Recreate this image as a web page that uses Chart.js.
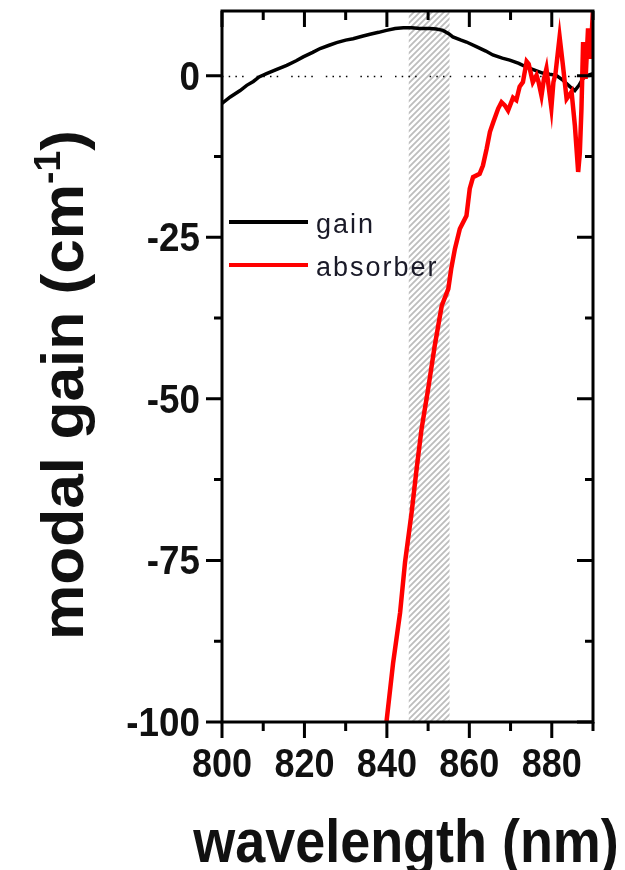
<!DOCTYPE html>
<html>
<head>
<meta charset="utf-8">
<script src="https://cdn.jsdelivr.net/npm/chart.js@4.4.0/dist/chart.umd.min.js"></script>
<style>
  html, body { margin: 0; padding: 0; background: #fff; }
  canvas { display: block; }
</style>
</head>
<body>
<canvas id="myChart" width="625" height="870"></canvas>
<script>
// gain section: wavelength (nm) and modal gain (cm-1)
var gainWl = [800, 802, 804.4, 806, 807.6, 809, 810.8, 813, 815.7, 818, 819.7, 822, 823.8, 826, 827.8,
    830, 831.8, 834, 835.9, 838, 839.9, 842, 844, 846, 848, 850.4, 852, 853.6, 855, 856, 858, 859.3,
    861.7, 864, 865.7, 868, 869.8, 872, 873.9, 876, 877.8, 879.5, 881.1, 882.5, 884.4, 885.6, 886.6,
    887.5, 888.5, 890];
var gainVal = [-4.3, -3.3, -2.3, -1.5, -0.9, -0.2, 0.3, 0.9, 1.6, 2.3, 2.9, 3.6, 4.2, 4.7, 5.1,
    5.5, 5.7, 6.1, 6.4, 6.7, 7.0, 7.3, 7.4, 7.4, 7.3, 7.3, 7.2, 7.0, 6.5, 6.0, 5.5, 5.2,
    4.5, 3.8, 3.2, 2.7, 2.4, 1.9, 1.3, 0.8, 0.4, 0.2, 0.05, -0.6, -1.7, -2.3, -1.5,
    -0.5, 0.0, 0.3];

// absorber section
var absWl = [839.9, 841.5, 843.2, 844.4, 846.0, 847.2, 848.4, 850.0, 851.6, 853.3, 854.9, 855.6,
    856.5, 857.7, 859.3, 860.1, 860.9, 862.5, 863.3, 864.2, 865.0, 865.8, 867.0, 867.8, 868.6,
    869.4, 870.6, 871.4, 872.2, 873.0, 873.9, 874.4, 875.4, 876.3, 876.8, 877.5, 878.1, 878.7,
    879.3, 879.9, 880.4, 880.9, 881.9, 882.7, 883.6, 884.8, 885.6, 886.4, 886.8, 887.2, 887.6,
    888.2, 888.8, 889.4, 890];
var absVal = [-100, -90.9, -83.1, -75.3, -67.6, -60.9, -54.7, -48.5, -41.8, -35.6, -33, -29.9,
    -26.8, -23.7, -21.7, -17.5, -15.7, -15.2, -13.9, -11.3, -8.7, -7.2, -5.1, -4.1, -4.6,
    -5.4, -3.4, -3.8, -1.7, -1.0, 2.2, 1.8, -1.0, 0.05, -1.0, -3.1, -0.5, 1.1,
    -2.0, -5.0, -1.0, 0.3, 6.0, 1.6, -3.6, -2.5, -7.7, -14.9, -12, -5.1, 5.2,
    -0.5, 7.3, 2.6, 10.4];

var seriesNames = ['gain', 'absorber'];
var xMajor = [800, 820, 840, 860, 880];
var xMinor = [810, 830, 850, 870, 890];
var yMajor = [0, -25, -50, -75, -100];
var yMinor = [-12.5, -37.5, -62.5, -87.5];
var bandFrom = 845.3, bandTo = 855.2; // hatched window (nm)

function pares(xs, ys) {
    var out = [];
    for (var i = 0; i < xs.length; i++) out.push({ x: xs[i], y: ys[i] });
    return out;
}

// text squeezed horizontally by sx
function texto(ctx, str, x, y, font, align, sx) {
    ctx.save();
    ctx.font = font;
    ctx.textAlign = align;
    ctx.textBaseline = 'alphabetic';
    ctx.translate(x, y);
    ctx.scale(sx, 1);
    ctx.fillText(str, 0, 0);
    ctx.restore();
}

function rayado() {
    var c = document.createElement('canvas');
    c.width = 6; c.height = 6;
    var p = c.getContext('2d');
    p.strokeStyle = '#bdbdbd';
    p.lineWidth = 1.8;
    p.beginPath();
    p.moveTo(-1, 7); p.lineTo(7, -1);
    p.moveTo(-4, 4); p.lineTo(4, -4);
    p.moveTo(2, 10); p.lineTo(10, 2);
    p.stroke();
    return c;
}

var fondo = {
    id: 'fondo',
    beforeDatasetsDraw: function (chart) {
        var ctx = chart.ctx, a = chart.chartArea;
        var x = chart.scales.x, y = chart.scales.y;
        ctx.save();
        // hatched band
        var x0 = x.getPixelForValue(bandFrom), x1 = x.getPixelForValue(bandTo);
        ctx.fillStyle = ctx.createPattern(rayado(), 'repeat');
        ctx.fillRect(x0, a.top + 1, x1 - x0, a.bottom - a.top - 1);
        // dotted zero line
        var y0 = Math.round(y.getPixelForValue(0)) + 0.5;
        ctx.strokeStyle = '#000';
        ctx.lineWidth = 1.5;
        ctx.setLineDash([1.5, 5.2, 1.5, 5.2, 1.5, 5.2, 1.5, 13]);
        ctx.beginPath();
        ctx.moveTo(a.left, y0);
        ctx.lineTo(a.right, y0);
        ctx.stroke();
        ctx.restore();
    }
};

var ejes = {
    id: 'ejes',
    afterDatasetsDraw: function (chart) {
        var ctx = chart.ctx, a = chart.chartArea;
        var x = chart.scales.x, y = chart.scales.y;
        ctx.save();
        ctx.strokeStyle = '#000';
        ctx.lineWidth = 3;
        ctx.lineCap = 'butt';
        ctx.strokeRect(a.left, a.top, a.right - a.left, a.bottom - a.top);

        ctx.beginPath();
        xMajor.forEach(function (v) {
            var px = x.getPixelForValue(v);
            ctx.moveTo(px, a.bottom); ctx.lineTo(px, a.bottom + 16);
            ctx.moveTo(px, a.top); ctx.lineTo(px, a.top + 16);
        });
        xMinor.forEach(function (v) {
            var px = x.getPixelForValue(v);
            ctx.moveTo(px, a.bottom); ctx.lineTo(px, a.bottom + 9);
            ctx.moveTo(px, a.top); ctx.lineTo(px, a.top + 9);
        });
        yMajor.forEach(function (v) {
            var py = y.getPixelForValue(v);
            ctx.moveTo(a.left, py); ctx.lineTo(a.left - 16, py);
            ctx.moveTo(a.right, py); ctx.lineTo(a.right - 16, py);
        });
        yMinor.forEach(function (v) {
            var py = y.getPixelForValue(v);
            ctx.moveTo(a.left, py); ctx.lineTo(a.left - 8, py);
            ctx.moveTo(a.right, py); ctx.lineTo(a.right - 8, py);
        });
        ctx.stroke();

        // tick labels
        ctx.fillStyle = '#111';
        var fTick = 'bold 40px "Liberation Sans", Arial, sans-serif';
        xMajor.forEach(function (v) {
            texto(ctx, String(v), x.getPixelForValue(v), a.bottom + 55, fTick, 'center', 0.9);
        });
        yMajor.forEach(function (v) {
            texto(ctx, String(v), a.left - 22, y.getPixelForValue(v) + 14, fTick, 'right', 0.92);
        });

        // axis titles
        texto(ctx, 'wavelength (nm)', 406, 862, 'bold 62px "Liberation Sans", Arial, sans-serif', 'center', 0.87);

        ctx.save();
        ctx.translate(83, 640);
        ctx.rotate(-Math.PI / 2);
        var fBig = 'bold 60px "Liberation Sans", Arial, sans-serif';
        var fSup = 'bold 36px "Liberation Sans", Arial, sans-serif';
        ctx.font = fBig;
        var w1 = ctx.measureText('modal gain (cm').width;
        var w3 = ctx.measureText(')').width;
        ctx.font = fSup;
        var w2 = ctx.measureText('-1').width;
        var k = 510 / (w1 + w2 + w3);
        ctx.scale(k, 1);
        ctx.textAlign = 'left';
        ctx.font = fBig;
        ctx.fillText('modal gain (cm', 0, 0);
        ctx.font = fSup;
        ctx.fillText('-1', w1, -23);
        ctx.font = fBig;
        ctx.fillText(')', w1 + w2, 0);
        ctx.restore();

        // legend
        var colores = ['#000', '#ff0000'];
        var filas = [222, 265];
        ctx.font = '27px "Liberation Sans", Arial, sans-serif';
        if ('letterSpacing' in ctx) ctx.letterSpacing = '2px';
        for (var i = 0; i < seriesNames.length; i++) {
            ctx.strokeStyle = colores[i];
            ctx.lineWidth = 4;
            ctx.beginPath();
            ctx.moveTo(229, filas[i]);
            ctx.lineTo(308, filas[i]);
            ctx.stroke();
            ctx.fillStyle = '#1a1a28';
            ctx.textAlign = 'left';
            ctx.fillText(seriesNames[i], 316, filas[i] + 11);
        }
        ctx.restore();
    }
};

var ctx = document.getElementById('myChart').getContext('2d');
var myChart = new Chart(ctx, {
    type: 'line',
    data: {
        datasets: [
            {
                label: seriesNames[0],
                data: pares(gainWl, gainVal),
                borderColor: '#000',
                borderWidth: 3.5,
                pointRadius: 0,
                tension: 0,
                order: 2
            },
            {
                label: seriesNames[1],
                data: pares(absWl, absVal),
                borderColor: '#ff0000',
                borderWidth: 4.5,
                pointRadius: 0,
                tension: 0,
                order: 1
            }
        ]
    },
    options: {
        responsive: false,
        animation: false,
        layout: { padding: { left: 222, top: 11, right: 32, bottom: 148 } },
        plugins: { legend: { display: false }, tooltip: { enabled: false } },
        scales: {
            x: { type: 'linear', min: 800, max: 890, display: false },
            y: { type: 'linear', min: -100, max: 10, display: false }
        }
    },
    plugins: [fondo, ejes]
});
</script>
</body>
</html>
